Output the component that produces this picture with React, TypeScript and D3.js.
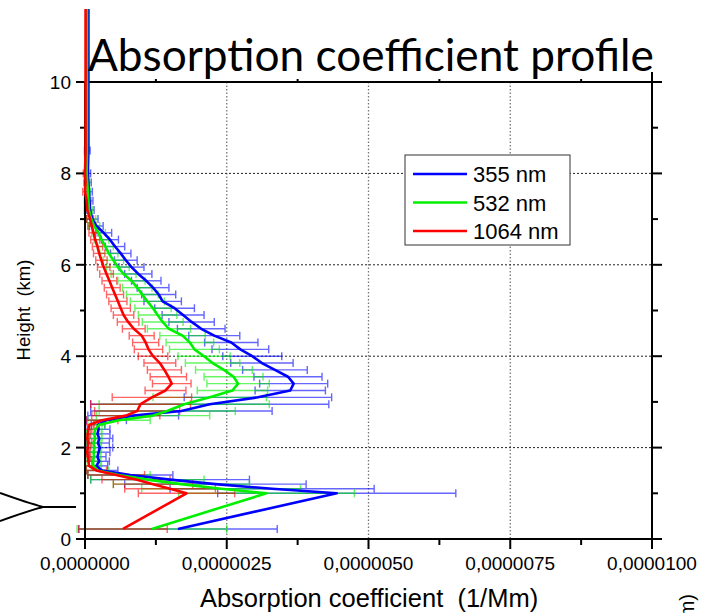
import React, { useLayoutEffect, useRef, useState } from "react";
import * as d3 from "d3";

// Heights (km) of the profile points
const heights = [11.6, 11.0, 10.0, 9.0, 8.5, 8.0, 7.8, 7.6, 7.4, 7.2, 7.0, 6.85, 6.7, 6.55, 6.4, 6.25, 6.1, 5.95, 5.8, 5.65, 5.5, 5.35, 5.2, 5.05, 4.9, 4.75, 4.6, 4.45, 4.3, 4.15, 4.0, 3.85, 3.7, 3.55, 3.4, 3.25, 3.1, 2.95, 2.8, 2.7, 2.6, 2.5, 2.4, 2.3, 2.2, 2.1, 2.0, 1.9, 1.8, 1.7, 1.6, 1.5, 1.4, 1.3, 1.2, 1.1, 1.0, 0.22];

// Absorption coefficient values, in units of 1e-6
const blue355 = [0.06, 0.06, 0.06, 0.06, 0.06, 0.05, 0.06, 0.07, 0.08, 0.09, 0.13, 0.2, 0.33, 0.44, 0.53, 0.63, 0.72, 0.82, 0.94, 1.08, 1.2, 1.3, 1.37, 1.58, 1.73, 1.88, 2.05, 2.28, 2.58, 2.74, 2.95, 3.12, 3.35, 3.58, 3.68, 3.62, 3.05, 2.2, 1.7, 0.85, 0.38, 0.23, 0.24, 0.22, 0.25, 0.23, 0.26, 0.24, 0.22, 0.25, 0.2, 0.3, 0.8, 1.5, 2.3, 3.3, 4.44, 1.64];
const blue355Err = [0, 0, 0, 0, 0.03, 0.05, 0.05, 0.06, 0.06, 0.07, 0.1, 0.12, 0.14, 0.15, 0.17, 0.18, 0.2, 0.22, 0.24, 0.26, 0.28, 0.3, 0.33, 0.35, 0.37, 0.4, 0.42, 0.45, 0.47, 0.5, 0.52, 0.55, 0.57, 0.6, 0.6, 0.62, 1.3, 2.1, 1.6, 0.8, 0.35, 0.12, 0.2, 0.22, 0.24, 0.2, 0.23, 0.2, 0.15, 0.18, 0.2, 0.28, 0.75, 1.4, 1.6, 1.8, 2.1, 1.75];

const green532 = [0.035, 0.035, 0.035, 0.035, 0.035, 0.03, 0.04, 0.05, 0.06, 0.07, 0.11, 0.16, 0.24, 0.29, 0.36, 0.42, 0.5, 0.58, 0.68, 0.82, 0.92, 1.01, 1.1, 1.2, 1.28, 1.37, 1.48, 1.72, 1.85, 1.93, 2.1, 2.25, 2.45, 2.62, 2.7, 2.6, 2.2, 1.75, 1.45, 1.2, 0.6, 0.25, 0.18, 0.16, 0.18, 0.15, 0.17, 0.15, 0.16, 0.14, 0.15, 0.22, 0.6, 1.1, 1.7, 2.4, 3.2, 1.18];
const green532Err = [0, 0, 0, 0, 0.03, 0.04, 0.04, 0.05, 0.05, 0.06, 0.08, 0.1, 0.12, 0.13, 0.14, 0.16, 0.18, 0.2, 0.22, 0.24, 0.26, 0.28, 0.3, 0.32, 0.34, 0.36, 0.38, 0.4, 0.42, 0.44, 0.46, 0.48, 0.5, 0.52, 0.55, 0.62, 1.0, 1.5, 1.2, 1.0, 0.55, 0.1, 0.12, 0.13, 0.12, 0.13, 0.12, 0.12, 0.12, 0.13, 0.14, 0.2, 0.55, 1.0, 1.2, 1.4, 1.55, 1.32];

const red1064 = [0.01, 0.01, 0.01, 0.01, 0.01, 0.0, 0.01, 0.0, 0.03, 0.04, 0.09, 0.12, 0.15, 0.18, 0.22, 0.25, 0.29, 0.33, 0.38, 0.43, 0.48, 0.53, 0.58, 0.63, 0.68, 0.76, 0.86, 1.0, 1.07, 1.12, 1.2, 1.32, 1.4, 1.47, 1.53, 1.42, 1.18, 0.98, 0.92, 0.72, 0.3, 0.08, 0.06, 0.05, 0.04, 0.06, 0.05, 0.04, 0.05, 0.06, 0.07, 0.2, 0.55, 0.9, 1.2, 1.5, 1.79, 0.67];
const red1064Err = [0, 0, 0, 0, 0.02, 0.03, 0.03, 0.04, 0.04, 0.05, 0.06, 0.07, 0.08, 0.08, 0.09, 0.1, 0.1, 0.11, 0.12, 0.13, 0.14, 0.15, 0.16, 0.17, 0.18, 0.19, 0.2, 0.22, 0.23, 0.25, 0.26, 0.28, 0.3, 0.32, 0.34, 0.36, 0.7, 0.88, 0.75, 0.6, 0.28, 0.08, 0.06, 0.05, 0.04, 0.06, 0.05, 0.04, 0.05, 0.06, 0.07, 0.18, 0.5, 0.6, 0.7, 0.8, 0.85, 0.78];

const seriesNames = ["355 nm", "532 nm", "1064 nm"];
const seriesColors = ["#0000ff", "#00f000", "#ff0000"];
const xTicks = [0, 2.5e-6, 5e-6, 7.5e-6, 1e-5];
const xMinorTicks = [1.25e-6, 3.75e-6, 6.25e-6, 8.75e-6];
const yTicks = [0, 2, 4, 6, 8, 10];
const yMinorTicks = [1, 3, 5, 7, 9];

const W = 701, H = 613;
const L = 85, R = 652, T = 82, B = 539;
const TITLE_WIDTH = 566;

export default function App() {
  const titleRef = useRef<SVGTextElement>(null);
  const [titleSize, setTitleSize] = useState(48);

  useLayoutEffect(() => {
    const el = titleRef.current;
    if (!el) return;
    const w = el.getComputedTextLength();
    if (w > 0) {
      const next = Math.round(((titleSize * TITLE_WIDTH) / w) * 10) / 10;
      if (Math.abs(next - titleSize) > 0.2) setTitleSize(next);
    }
  }, [titleSize]);

  const x = d3.scaleLinear().domain([0, 1e-5]).range([L, R]);
  const y = d3.scaleLinear().domain([0, 10]).range([B, T]);
  const fmt = (v: number) => d3.format(".7f")(v).replace(".", ",");

  const series = [
    { vals: blue355, errs: blue355Err },
    { vals: green532, errs: green532Err },
    { vals: red1064, errs: red1064Err },
  ];
  const line = d3
    .line<number>()
    .x((v) => x(v * 1e-6))
    .y((_, i) => y(heights[i]));

  const font = "'Liberation Sans', Arial, sans-serif";

  return (
    <svg width={W} height={H} style={{ position: "absolute", left: 0, top: 0, background: "#fff" }}>
      {/* gridlines */}
      {xTicks.slice(1, -1).map((t) => (
        <line key={"gx" + t} x1={x(t)} x2={x(t)} y1={T} y2={B} stroke="#777" strokeWidth={1.3} strokeDasharray="1.5,2" />
      ))}
      {yTicks.slice(1, -1).map((t) => (
        <line key={"gy" + t} x1={L} x2={R} y1={y(t)} y2={y(t)} stroke="#222" strokeWidth={1} strokeDasharray="2,2" />
      ))}

      {/* error bars */}
      {series.map((s, si) => (
        <g key={"eb" + si} stroke={seriesColors[si]} strokeWidth={1.4} opacity={0.6}>
          {s.vals.map((v, i) => {
            const e = s.errs[i];
            if (!e) return null;
            const yy = y(heights[i]);
            const x0 = x((v - e) * 1e-6);
            const x1 = x((v + e) * 1e-6);
            return (
              <g key={i}>
                <line x1={x0} x2={x1} y1={yy} y2={yy} />
                <line x1={x0} x2={x0} y1={yy - 4} y2={yy + 4} />
                <line x1={x1} x2={x1} y1={yy - 4} y2={yy + 4} />
              </g>
            );
          })}
        </g>
      ))}

      {/* axes */}
      <g stroke="#000" strokeWidth={2} fill="none">
        <line x1={L} x2={L} y1={T} y2={B + 1} />
        <line x1={R} x2={R} y1={72} y2={B + 1} />
        <line x1={L - 1} x2={R + 1} y1={B} y2={B} />
        <line x1={L - 1} x2={R + 1} y1={T} y2={T} />
        {yTicks.map((t) => (
          <g key={"yt" + t}>
            <line x1={L - 9} x2={L} y1={y(t)} y2={y(t)} />
            <line x1={R} x2={R + 10} y1={y(t)} y2={y(t)} />
          </g>
        ))}
        {yMinorTicks.map((t) => (
          <g key={"ymt" + t}>
            <line x1={L - 5} x2={L} y1={y(t)} y2={y(t)} />
            <line x1={R} x2={R + 6} y1={y(t)} y2={y(t)} />
          </g>
        ))}
        {xTicks.map((t) => (
          <line key={"xt" + t} x1={x(t)} x2={x(t)} y1={B} y2={B + 10} />
        ))}
        {xMinorTicks.map((t) => (
          <g key={"xmt" + t}>
            <line x1={x(t)} x2={x(t)} y1={B} y2={B + 6} />
            <line x1={x(t)} x2={x(t)} y1={T} y2={T - 3} />
          </g>
        ))}
      </g>

      {/* lines */}
      {series.map((s, si) => (
        <path key={"ln" + si} d={line(s.vals) || ""} fill="none" stroke={seriesColors[si]} strokeWidth={2.6} strokeLinejoin="round" />
      ))}

      {/* tick labels */}
      {yTicks.map((t) => (
        <text key={"yl" + t} x={71} y={y(t) + 7} textAnchor="end" fontFamily={font} fontSize={19}>
          {t}
        </text>
      ))}
      {xTicks.map((t) => (
        <text key={"xl" + t} x={x(t)} y={570} textAnchor="middle" fontFamily={font} fontSize={19}>
          {fmt(t)}
        </text>
      ))}

      {/* axis titles */}
      <text x={369} y={607} textAnchor="middle" fontFamily={font} fontSize={25.5} style={{ whiteSpace: "pre" }}>
        Absorption coefficient  (1/Mm)
      </text>
      <text transform="translate(30,310) rotate(-90)" textAnchor="middle" fontFamily={font} fontSize={18.5} style={{ whiteSpace: "pre" }}>
        Height  (km)
      </text>
      <text transform="translate(694,594) rotate(-90)" textAnchor="end" fontFamily={font} fontSize={20}>
        (km)
      </text>

      {/* title */}
      <text ref={titleRef} x={88} y={71} fontFamily="Lato, 'Open Sans', sans-serif" fontSize={titleSize}>
        Absorption coefficient profile
      </text>

      {/* stray brace fragment on the left */}
      <path d="M0,493 Q28,503 43,507 L76,507 M0,521 Q28,511 43,507" fill="none" stroke="#000" strokeWidth={2} />

      {/* legend */}
      <rect x={405} y={155} width={165} height={90} fill="#fff" stroke="#333" strokeWidth={1} />
      {seriesNames.map((n, i) => (
        <g key={"lg" + i}>
          <line x1={413} x2={467} y1={174 + i * 28.5} y2={174 + i * 28.5} stroke={seriesColors[i]} strokeWidth={2.6} />
          <text x={473} y={174 + i * 28.5 + 8} fontFamily={font} fontSize={22}>
            {n}
          </text>
        </g>
      ))}
    </svg>
  );
}
